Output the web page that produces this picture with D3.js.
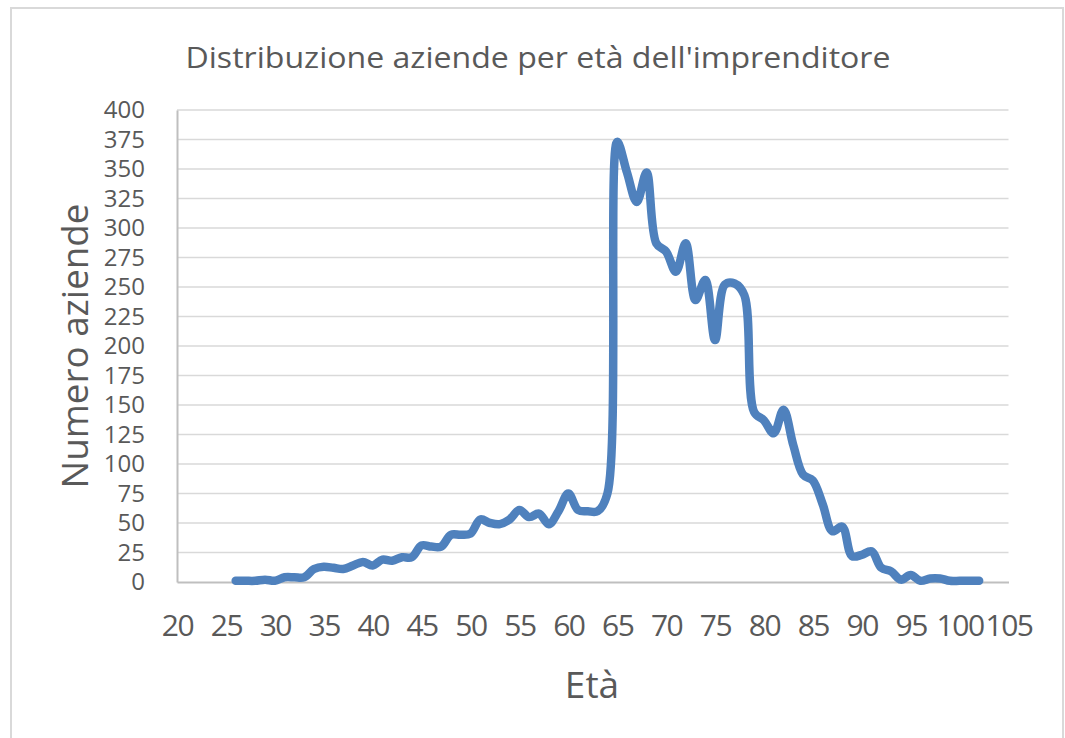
<!DOCTYPE html>
<html>
<head>
<meta charset="utf-8">
<script src="https://cdn.jsdelivr.net/npm/d3@7"></script>
<style>
  body { margin: 0; background: #fff; }
  text { font-family: "Open Sans", sans-serif; fill: #595959; }
</style>
</head>
<body>
<svg id="chart"></svg>
<script>
// ages (x) and number of companies (y)
var ages = [26, 27, 28, 29, 30, 31, 32, 33, 34, 35, 36, 37, 38, 39, 40, 41, 42, 43, 44, 45,
            46, 47, 48, 49, 50, 51, 52, 53, 54, 55, 56, 57, 58, 59, 60, 61, 62, 63, 64, 65,
            66, 67, 68, 69, 70, 71, 72, 73, 74, 75, 76, 77, 78, 79, 80, 81, 82, 83, 84, 85,
            86, 87, 88, 89, 90, 91, 92, 93, 94, 95, 96, 97, 98, 99, 100, 101, 102];
var counts = [1, 1, 1, 2, 1, 4, 4, 4, 11, 13, 12, 11, 14, 17, 14, 19, 18, 21, 21, 31,
              30, 30, 40, 40, 41, 53, 50, 49, 53, 61, 55, 58, 49, 60, 75, 61, 60, 60, 75, 373,
              347, 322, 347, 287, 280, 263, 287, 239, 256, 205, 252, 253, 243, 144, 137, 126, 146, 116, 91, 86,
              66, 43, 47, 22, 23, 26, 12, 9, 2, 6, 1, 3, 3, 1, 1, 1, 1];

var xTicks = [20, 25, 30, 35, 40, 45, 50, 55, 60, 65, 70, 75, 80, 85, 90, 95, 100, 105];
var yTicks = [0, 25, 50, 75, 100, 125, 150, 175, 200, 225, 250, 275, 300, 325, 350, 375, 400];

var title = "Distribuzione aziende per età dell'imprenditore";
var xTitle = "Età";
var yTitle = "Numero aziende";

var width = 1065, height = 738;
var margin = { top: 110, right: 57, bottom: 156, left: 177 };

var svg = d3.select("#chart")
    .attr("width", width)
    .attr("height", height);

// chart frame
svg.append("path")
    .attr("d", "M11," + height + "V8H1063V" + height)
    .attr("fill", "none")
    .attr("stroke", "#d9d9d9")
    .attr("stroke-width", 2);

var data = ages.map((a, i) => ({ age: a, n: counts[i] }));

var x = d3.scaleLinear()
    .domain([20, 105])
    .range([margin.left, width - margin.right + 0.5]);

var y = d3.scaleLinear()
    .domain([0, 400])
    .range([height - margin.bottom, margin.top]);

// horizontal gridlines
svg.append("g")
    .selectAll("line")
    .data(yTicks.filter(d => d > 0))
    .join("line")
    .attr("x1", x(20))
    .attr("x2", x(105))
    .attr("y1", d => y(d))
    .attr("y2", d => y(d))
    .attr("stroke", "#d9d9d9")
    .attr("stroke-width", 1.5);

// axes
var yAxis = g => g
    .attr("transform", `translate(${x(20)},0)`)
    .call(d3.axisLeft(y).tickValues(yTicks).tickSize(0).tickPadding(32))
    .call(g => g.select(".domain").attr("stroke", "#bfbfbf").attr("stroke-width", 2))
    .call(g => g.selectAll("text")
        .attr("font-size", 24)
        .attr("font-family", "Open Sans")
        .attr("fill", "#595959"));
svg.append("g").call(yAxis);

var xAxis = g => g
    .attr("transform", `translate(0,${y(0)})`)
    .call(d3.axisBottom(x).tickValues(xTicks).tickSize(0).tickPadding(33))
    .call(g => g.select(".domain").attr("stroke", "#bfbfbf").attr("stroke-width", 2))
    .call(g => g.selectAll("text")
        .attr("font-size", 30)
        .attr("font-family", "Open Sans")
        .attr("letter-spacing", -1.5)
        .attr("fill", "#595959"));
svg.append("g").call(xAxis);

// series
var line = d3.line()
    .x(d => x(d.age))
    .y(d => y(d.n))
    .curve(d3.curveCatmullRom.alpha(0.5));

svg.append("path")
    .datum(data)
    .attr("fill", "none")
    .attr("stroke", "#4f81bd")
    .attr("stroke-width", 8.5)
    .attr("stroke-linejoin", "round")
    .attr("stroke-linecap", "round")
    .attr("d", line);

// titles
svg.append("text")
    .attr("x", 538)
    .attr("y", 68)
    .attr("text-anchor", "middle")
    .attr("font-size", 29)
    .attr("textLength", 705)
    .attr("lengthAdjust", "spacingAndGlyphs")
    .text(title);

svg.append("text")
    .attr("x", 592)
    .attr("y", 698)
    .attr("text-anchor", "middle")
    .attr("font-size", 37)
    .text(xTitle);

svg.append("text")
    .attr("transform", "translate(88," + ((y(0) + y(400)) / 2) + ") rotate(-90)")
    .attr("text-anchor", "middle")
    .attr("font-size", 37)
    .attr("textLength", 285)
    .attr("lengthAdjust", "spacingAndGlyphs")
    .text(yTitle);
</script>
</body>
</html>
